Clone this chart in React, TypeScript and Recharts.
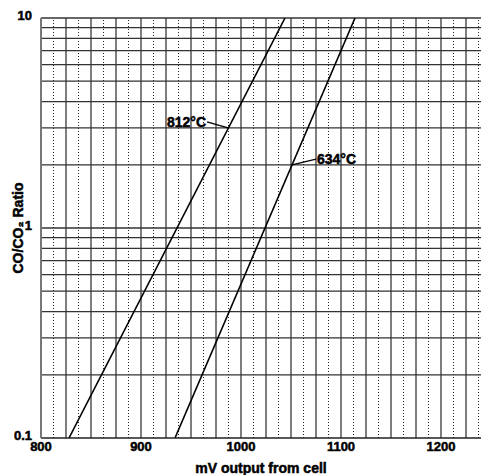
import { LineChart, Line, XAxis, YAxis, ReferenceLine, ReferenceDot } from "recharts";

// mV output from cell vs CO/CO2 ratio, two isotherms
const line812 = [
  { mv: 828, ratio: 0.1 },
  { mv: 1044, ratio: 10 },
];
const line634 = [
  { mv: 934, ratio: 0.1 },
  { mv: 1114, ratio: 10 },
];

const xTicks = [800, 900, 1000, 1100, 1200];
const yTicks = [0.1, 1, 10];

// grid
const xSolid = [825, 850, 875, 900, 925, 950, 975, 1000, 1025, 1050, 1075, 1100, 1125, 1150, 1175, 1200, 1225];
const xDotted = [812.5, 837.5, 862.5, 887.5, 912.5, 937.5, 962.5, 987.5, 1012.5, 1037.5, 1062.5, 1087.5, 1112.5, 1137.5, 1162.5, 1187.5, 1212.5, 1237.5];
const yLines = [0.2, 0.3, 0.4, 0.5, 0.6, 0.7, 0.8, 0.9, 1, 2, 3, 4, 5, 6, 7, 8, 9, 10];

// labels with pointer: text anchor point and point on the line
const callouts = [
  { text: "812°C", tx: 966, ty: 3.2, px: 987, py: 3, anchor: "end" },
  { text: "634°C", tx: 1075, ty: 2.13, px: 1051, py: 2, anchor: "start" },
];

const font = "'Liberation Sans', Arial, sans-serif";
const heavy = { fill: "#000", stroke: "#000", strokeWidth: 0.5, fontWeight: "bold", fontFamily: font };

export default function App() {
  return (
    <div style={{ position: "absolute", left: 0, top: 0, width: 481, height: 475, background: "#fff" }}>
      <LineChart width={481} height={475} margin={{ top: 18, right: 0, left: 0, bottom: 0 }}>
        <XAxis
          type="number"
          dataKey="mv"
          domain={[800, 1240]}
          ticks={xTicks}
          allowDataOverflow
          tickLine={false}
          tickSize={0}
          tickMargin={4}
          height={37}
          axisLine={{ stroke: "#222", strokeWidth: 1.5 }}
          tick={{ ...heavy, fontSize: 13 }}
          label={{
            value: "mV output from cell",
            position: "insideBottom",
            offset: 2,
            ...heavy,
            fontSize: 14,
          }}
        />
        <YAxis
          type="number"
          dataKey="ratio"
          scale="log"
          domain={[0.1, 10]}
          ticks={yTicks}
          allowDataOverflow
          tickLine={false}
          tickSize={0}
          tickMargin={9}
          width={41}
          axisLine={{ stroke: "#777", strokeWidth: 2 }}
          tickFormatter={(v: number) => String(v)}
          tick={{ ...heavy, fontSize: 13, dy: -3 }}
          label={{
            value: "CO/CO₂ Ratio",
            angle: -90,
            position: "insideLeft",
            offset: 18,
            ...heavy,
            fontSize: 14,
            style: { textAnchor: "middle" },
          }}
        />
        {xDotted.map((x) => (
          <ReferenceLine key={"d" + x} x={x} stroke="#222" strokeDasharray="1 2" />
        ))}
        {xSolid.map((x) => (
          <ReferenceLine key={"s" + x} x={x} stroke="#3a3a3a" strokeWidth={1.3} />
        ))}
        {yLines.map((y) => (
          <ReferenceLine key={"h" + y} y={y} stroke="#333" strokeWidth={1.3} />
        ))}
        <Line
          data={line812}
          dataKey="ratio"
          stroke="#000"
          strokeWidth={1.6}
          dot={false}
          isAnimationActive={false}
        />
        <Line
          data={line634}
          dataKey="ratio"
          stroke="#000"
          strokeWidth={1.6}
          dot={false}
          isAnimationActive={false}
        />
        {callouts.map((c) => (
          <ReferenceLine
            key={"p" + c.text}
            segment={[
              { x: c.tx, y: c.ty },
              { x: c.px, y: c.py },
            ]}
            stroke="#000"
            strokeWidth={1.3}
          />
        ))}
        {callouts.map((c) => (
          <ReferenceDot
            key={"t" + c.text}
            x={c.tx}
            y={c.ty}
            r={0}
            stroke="none"
            label={{
              value: c.text,
              position: c.anchor === "end" ? "left" : "right",
              offset: 1,
              ...heavy,
              fontSize: 14,
            }}
          />
        ))}
      </LineChart>
    </div>
  );
}
